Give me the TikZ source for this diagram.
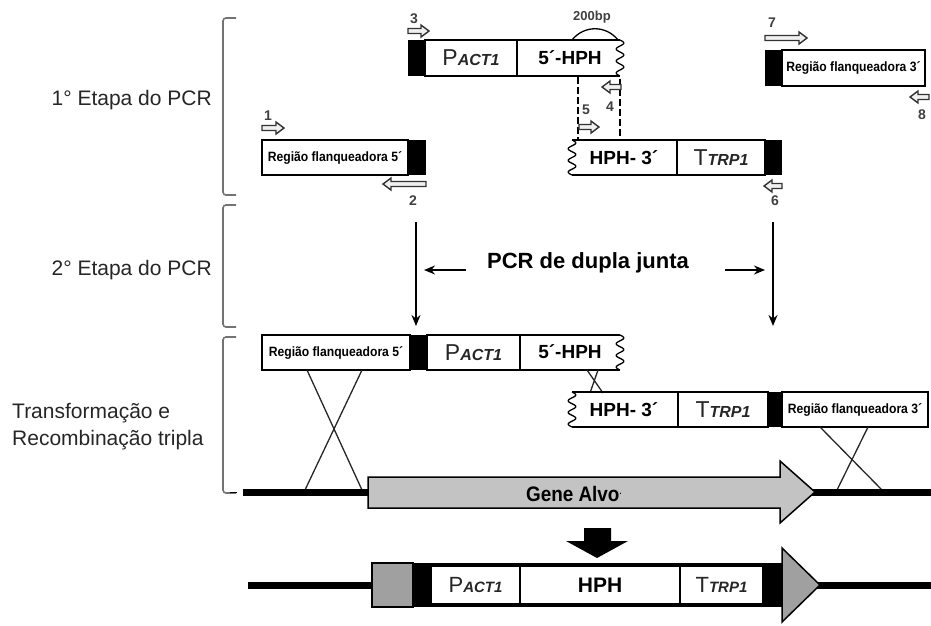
\documentclass[tikz,border=0pt]{standalone}
\usepackage{fontspec}
\setmainfont{Liberation Sans}
\newfontfamily\narrowsans[FakeStretch=0.9]{Liberation Sans}
\usetikzlibrary{arrows.meta}

\definecolor{geneGray}{HTML}{C3C3C3}
\definecolor{darkGray}{HTML}{A0A0A0}

% promoter and terminator labels
\newcommand\Pact[2]{{\fontsize{#1}{#1}\selectfont P}{\fontsize{#2}{#2}\selectfont\bfseries\itshape ACT1}}
\newcommand\Ttrp[2]{{\fontsize{#1}{#1}\selectfont T}{\fontsize{#2}{#2}\selectfont\bfseries\itshape TRP1}}
% wavy (broken) end of a fragment: x, y top, y bottom
\newcommand\wavyend[3]{\draw[line width=1.3pt] plot[domain=0:1,samples=61,variable=\t] ({#1+3.8*sin(\t*1080)},{#2+\t*(#3-#2)});}
% hollow primer arrows: x start, x end, y
\newcommand\primerR[3]{\draw[primer] (#1,#3-2.5) -- (#2-8,#3-2.5) -- (#2-8,#3-6) -- (#2,#3) -- (#2-8,#3+6) -- (#2-8,#3+2.5) -- (#1,#3+2.5) -- cycle;}
\newcommand\primerL[3]{\draw[primer] (#2,#3-2.5) -- (#1+8,#3-2.5) -- (#1+8,#3-6) -- (#1,#3) -- (#1+8,#3+6) -- (#1+8,#3+2.5) -- (#2,#3+2.5) -- cycle;}

\begin{document}
\begin{tikzpicture}[x=1pt,y=-1pt,
  brace/.style={draw=black!55,line width=1.6pt,rounded corners=3pt},
  steplbl/.style={font=\fontsize{21}{27}\selectfont,text=black!85,inner sep=0pt},
  box/.style={draw,line width=2pt,inner sep=0pt,text=black!85},
  flank/.style={font=\narrowsans\bfseries\fontsize{13.5}{13.5}\selectfont,text=black},
  hphlbl/.style={font=\bfseries\fontsize{19}{19}\selectfont,inner sep=0pt},
  num/.style={font=\bfseries\fontsize{14}{14}\selectfont,text=black!75,inner sep=0pt},
  primer/.style={draw=black!80,fill=black!6,line width=1.4pt},
  flow/.style={line width=1.8pt,-{Stealth[length=11pt,width=9pt]}},
  cross/.style={line width=1.3pt,black!85},
  thinseg/.style={line width=1.3pt}]
\useasboundingbox (0,0) rectangle (931,625);

% ---------- stage brackets and labels ----------
\draw[brace] (236,18) -- (223,18) -- (223,195) -- (236,195);
\draw[brace] (236,205) -- (223,205) -- (223,327) -- (236,327);
\draw[brace] (236,337) -- (223,337) -- (223,493) -- (236,493);
\node[steplbl,anchor=east] (st1) at (212,100) {1° Etapa do PCR};
\node[steplbl,anchor=east] (st2) at (212,270) {2° Etapa do PCR};
\node[steplbl,anchor=west,align=left] (st3) at (12,427) {Transformação e\\Recombinação tripla};

% ---------- first PCR: promoter + 5' HPH ----------
\fill (408,40) rectangle (425,76);
\node[box,minimum width=92pt,minimum height=36pt] (pA) at (471,58) {\Pact{23}{16}};
\draw[thinseg] (517,40) -- (620,40) (517,76) -- (620,76);
\wavyend{620}{40}{76}
\node[hphlbl] (hA) at (570,58) {5´-HPH};
\draw[line width=1.3pt] (572,40) .. controls (584,25) and (606,25) .. (618,40);
\node[num,font=\bfseries\fontsize{13}{13}\selectfont] (bp) at (592,17) {200bp};
\primerR{408}{429}{31}
\node[num] (n3) at (414,19) {3};

% overlap of the two HPH halves
\draw[line width=1.2pt,dash pattern=on 7pt off 3pt] (578,77) -- (578,140);
\draw[line width=1.2pt,dash pattern=on 7pt off 3pt] (620,79) -- (620,140);
\primerL{602}{621}{87}
\node[num] (n4) at (610,107) {4};
\primerR{579}{599}{127}
\node[num] (n5) at (586,110) {5};

% ---------- first PCR: 3' HPH + terminator ----------
\draw[thinseg] (572,140) -- (677,140) (572,175) -- (677,175);
\wavyend{572}{140}{175}
\node[hphlbl] (hB) at (624,158) {HPH- 3´};
\fill (765,140) rectangle (782,175);
\node[box,minimum width=88pt,minimum height=35pt] (tB) at (721,157.5) {\Ttrp{23}{16}};
\primerL{764}{782}{186}
\node[num] (n6) at (775,201) {6};

% ---------- first PCR: flanking regions ----------
\fill (408,140) rectangle (426,175);
\node[box,flank,minimum width=146pt,minimum height=35pt] (fL) at (335,157.5) {Região flanqueadora 5´};
\primerR{262}{284}{128}
\node[num] (n1) at (268,116) {1};
\primerL{383}{426}{184}
\node[num] (n2) at (413,201) {2};

\fill (765,50) rectangle (782,86);
\node[box,flank,minimum width=143pt,minimum height=36pt] (fR) at (853.5,68) {Região flanqueadora 3´};
\primerR{765}{807}{38}
\node[num] (n7) at (772,23) {7};
\primerL{910}{929}{97}
\node[num] (n8) at (922,115) {8};

% ---------- second PCR ----------
\coordinate (dl1) at (416,222);
\coordinate (dl2) at (416,326);
\coordinate (dr1) at (773,222);
\coordinate (dr2) at (773,326);
\draw[flow] (dl1) -- (dl2);
\draw[flow] (dr1) -- (dr2);
\node[font=\bfseries\fontsize{22}{22}\selectfont] (pcr) at (588,263) {PCR de dupla junta};
\coordinate (hl1) at (466,270);
\coordinate (hl2) at (424,270);
\coordinate (hr1) at (725,270);
\coordinate (hr2) at (765,270);
\draw[flow,line width=1.6pt] (hl1) -- (hl2);
\draw[flow,line width=1.6pt] (hr1) -- (hr2);

% ---------- transformation: joined fragments ----------
\fill (410,335) rectangle (427,370);
\node[box,flank,minimum width=148pt,minimum height=35pt] (fC) at (336,352.5) {Região flanqueadora 5´};
\node[box,minimum width=93pt,minimum height=35pt] (pC) at (473.5,352.5) {\Pact{23}{16}};
\draw[thinseg] (520,335) -- (620,335) (520,370) -- (620,370);
\wavyend{620}{335}{370}
\node[hphlbl] (hC) at (570,352) {5´-HPH};
\draw[cross] (587,370) -- (603,393) (598,370) -- (590,393);

\draw[thinseg] (572,392) -- (678,392) (572,427) -- (678,427);
\wavyend{572}{392}{427}
\node[hphlbl] (hD) at (624,410) {HPH- 3´};
\fill (768,392) rectangle (782,427);
\node[box,minimum width=90pt,minimum height=35pt] (tD) at (723,409.5) {\Ttrp{23}{16}};
\node[box,flank,minimum width=146pt,minimum height=35pt] (fD) at (855,409.5) {Região flanqueadora 3´};

% crossovers
\draw[cross] (307,370) -- (362,490) (362,370) -- (305,490);
\draw[cross] (820,427) -- (882,490) (868,427) -- (837,490);

% ---------- target locus ----------
\draw[line width=1pt] (230,492) -- (237,492);
\draw[line width=7pt] (243,492) -- (931,492);
\draw[line width=1.5pt,fill=geneGray] (368,477) -- (780,477) -- (780,461) -- (815,492) -- (780,523) -- (780,508) -- (368,508) -- cycle;
\node[font=\narrowsans\bfseries\fontsize{21}{21}\selectfont] (gene) at (574,494) {Gene Alvo\raisebox{5pt}{\fontsize{8}{8}\selectfont·}};

\fill (584,528) -- (611,528) -- (611,541) -- (628,541) -- (597,558) -- (566,541) -- (584,541) -- cycle;

% ---------- replaced locus ----------
\draw[line width=7pt] (248,585) -- (931,585);
\draw[line width=1.5pt,fill=darkGray] (372,563) rectangle (413,607);
\fill (413,563) rectangle (782,607);
\node[fill=white,inner sep=0pt,minimum width=87pt,minimum height=36pt,text=black!85] (pE) at (475.5,585) {\Pact{22}{15}};
\node[fill=white,inner sep=0pt,minimum width=158pt,minimum height=36pt,font=\bfseries\fontsize{21}{21}\selectfont] (hE) at (600,585) {HPH};
\node[fill=white,inner sep=0pt,minimum width=81pt,minimum height=36pt,text=black!85] (tE) at (721.5,585) {\Ttrp{22}{15}};
\draw[line width=1.5pt,fill=darkGray] (782,548) -- (820,585) -- (782,622) -- cycle;
\end{tikzpicture}
\end{document}
